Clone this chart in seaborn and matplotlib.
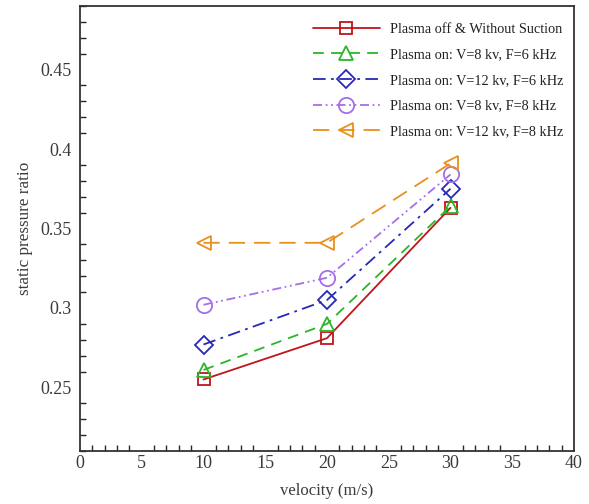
import matplotlib
matplotlib.use("Agg")
import matplotlib.pyplot as plt
from matplotlib.ticker import MultipleLocator, FuncFormatter
import seaborn as sns
import pandas as pd

velocity = [10, 20, 30]
plasma_off = [0.255, 0.281, 0.363]
v8_f6 = [0.261, 0.290, 0.364]
v12_f6 = [0.277, 0.305, 0.375]
v8_f8 = [0.302, 0.319, 0.384]
v12_f8 = [0.341, 0.341, 0.391]
labels = ["Plasma off & Without Suction",
          "Plasma on: V=8 kv, F=6 kHz",
          "Plasma on: V=12 kv, F=6 kHz",
          "Plasma on: V=8 kv, F=8 kHz",
          "Plasma on: V=12 kv, F=8 kHz"]
series = [plasma_off, v8_f6, v12_f6, v8_f8, v12_f8]

colors = ["#c0151b", "#2ab52a", "#2828b8", "#a56ee6", "#e8901e"]
markers = ["s", "^", "D", "o", "<"]
dashes = ["-", (0, (6, 4)), (0, (7, 3, 1.5, 3)), (0, (5, 2, 1, 2, 1, 2)), (0, (9, 5))]
msizes = [9, 10, 9, 11, 10]

sns.set_style("white")
plt.rcParams['font.family'] = ['Liberation Serif', 'DejaVu Serif']

fig = plt.figure(figsize=(5.89, 5.04), dpi=100)
ax = fig.add_axes([80/589, 1-451/504, (574-80)/589, (451-6)/504])

for lab, vals, c, m, d, ms in zip(labels, series, colors, markers, dashes, msizes):
    df = pd.DataFrame({"velocity": velocity, "ratio": vals})
    sns.lineplot(data=df, x="velocity", y="ratio", ax=ax, color=c, label=lab,
                 marker=m, markersize=ms, markerfacecolor="none",
                 markeredgecolor=c, markeredgewidth=1.3, linewidth=1.3,
                 linestyle=d, legend=False)

ax.set_xlim(0, 40)
ax.set_ylim(0.21, 0.49)
ax.xaxis.set_major_locator(MultipleLocator(5))
ax.xaxis.set_minor_locator(MultipleLocator(1))
ax.set_yticks([0.25, 0.3, 0.35, 0.4, 0.45])
ax.yaxis.set_minor_locator(MultipleLocator(0.01))
ax.yaxis.set_major_formatter(FuncFormatter(lambda v, p: f"{v:g}"))
ax.tick_params(which="major", direction="in", length=9, width=1.4,
               labelsize=13, color="#222222", labelcolor="#3a3a3a",
               top=False, right=False)
ax.tick_params(axis="y", which="major", pad=6)
ax.tick_params(axis="x", which="major", pad=3)
ax.tick_params(which="minor", direction="in", length=4.5, width=1.0,
               top=False, right=False, bottom=True, left=True)
for s in ax.spines.values():
    s.set_color("#333333")
    s.set_linewidth(1.3)

ax.set_xlabel("velocity (m/s)", fontsize=12, color="#3a3a3a", labelpad=8)
ax.set_ylabel("static pressure ratio", fontsize=12.3, color="#3a3a3a", labelpad=5.5)

ax.legend(loc="upper right", bbox_to_anchor=(1.0, 0.985), frameon=False,
          fontsize=10.3, handlelength=4.75, handletextpad=0.7,
          labelspacing=0.88, borderaxespad=0.3, labelcolor="#222222")

fig.savefig("out.png", dpi=100)
